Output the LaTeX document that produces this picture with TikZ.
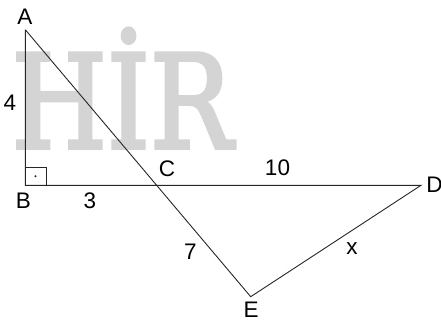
\documentclass[tikz,border=0pt]{standalone}
\usepackage{fontspec}
\setmainfont{Liberation Sans}
\font\wmfnt="DejaVu Serif:embolden=3" at 130pt
\begin{document}
\begin{tikzpicture}[x=1pt,y=-1pt,
  lbl/.style={inner sep=0pt, font=\fontsize{22.5}{26}\selectfont},
  edge/.style={line width=0.9pt, black!85}]
\useasboundingbox (0,0) rectangle (441,324);
% watermark
\node[anchor=base, inner sep=0pt, xscale=0.84, transform shape, text=black!17,
  font=\wmfnt] (wm) at (122,148) {HİR};
% points
\coordinate (A) at (25.3,29.7);
\coordinate (B) at (25.3,185.3);
\coordinate (C) at (156.4,185.3);
\coordinate (D) at (421,185.3);
\coordinate (E) at (250.7,296.7);
\coordinate (R1) at (46.5,185.3);
\coordinate (R2) at (46.5,167.3);
\coordinate (R3) at (25.3,167.3);
\coordinate (Rd) at (35.5,176.3);
% edges
\draw[edge] (A) -- (B) -- (D) -- (E) -- (A);
\draw[line width=0.8pt, black!85] (R3) -- (R2) -- (R1);
\fill[black!85] (Rd) circle (1.1pt);
% labels
\node[lbl] (lA) at (25,16.5) {A};
\node[lbl] (l4) at (10,102.5) {4};
\node[lbl] (lB) at (23.5,200.5) {B};
\node[lbl] (l3) at (90,200.5) {3};
\node[lbl] (lC) at (167,169) {C};
\node[lbl] (l10) at (277.5,168) {10};
\node[lbl] (lD) at (434.5,184.5) {D};
\node[lbl] (l7) at (190.5,252) {7};
\node[lbl] (lx) at (352,249) {x};
\node[lbl] (lE) at (251,310) {E};
\end{tikzpicture}
\end{document}
